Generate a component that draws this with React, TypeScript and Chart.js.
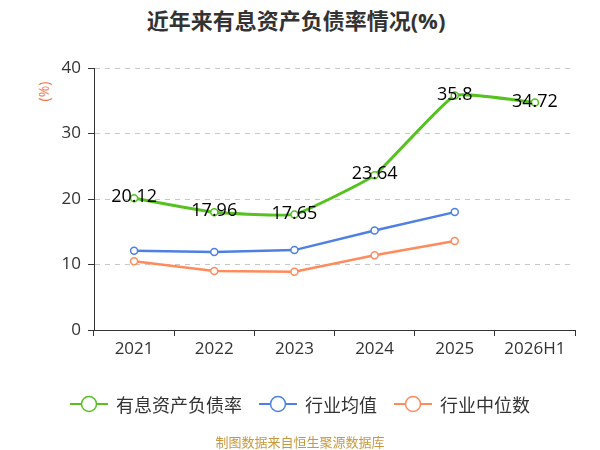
import { useEffect, useRef } from 'react';
import { Chart, registerables } from 'chart.js';

Chart.register(...registerables);

const years = ['2021', '2022', '2023', '2024', '2025', '2026H1'];
const debtRatio = [20.12, 17.96, 17.65, 23.64, 35.8, 34.72];
const industryAvg = [12.1, 11.9, 12.2, 15.2, 18.0, null];
const industryMedian = [10.5, 9.0, 8.9, 11.4, 13.6, null];
const yTicks = [0, 10, 20, 30, 40];

const GREEN = '#55c21f';
const BLUE = '#4e80e3';
const ORANGE = '#ff8b5c';
const FONT = '"Open Sans", "Noto Sans CJK SC", sans-serif';

const seriesNames = ['有息资产负债率', '行业均值', '行业中位数'];
const seriesColors = [GREEN, BLUE, ORANGE];

// 绿色折线上的数值标签
const valueLabels = {
  id: 'valueLabels',
  afterDatasetsDraw(chart: Chart) {
    const ctx = chart.ctx;
    const meta = chart.getDatasetMeta(0);
    ctx.save();
    ctx.font = `18px ${FONT}`;
    ctx.fillStyle = '#000';
    ctx.textAlign = 'center';
    ctx.textBaseline = 'middle';
    meta.data.forEach((pt, i) => {
      ctx.fillText(String(debtRatio[i]), pt.x, pt.y - 1);
    });
    ctx.restore();
  },
};

function Legend() {
  return (
    <div
      style={{
        position: 'absolute',
        top: 391,
        left: 0,
        width: 600,
        display: 'flex',
        justifyContent: 'center',
        alignItems: 'center',
        boxSizing: 'border-box',
      }}
    >
      {seriesNames.map((name, i) => (
        <div key={name} style={{ display: 'flex', alignItems: 'center', marginRight: i < 2 ? 17 : 0 }}>
          <svg width={38} height={22}>
            <line x1={0} y1={11} x2={38} y2={11} stroke={seriesColors[i]} strokeWidth={2} />
            <circle cx={19} cy={11} r={7.5} fill="#fff" stroke={seriesColors[i]} strokeWidth={1.5} />
          </svg>
          <span style={{ marginLeft: 8, fontSize: 18, color: '#333', fontFamily: FONT }}>{name}</span>
        </div>
      ))}
    </div>
  );
}

export default function App() {
  const canvasRef = useRef<HTMLCanvasElement>(null);
  const chartRef = useRef<Chart | null>(null);

  useEffect(() => {
    if (!canvasRef.current) return;
    if (chartRef.current) chartRef.current.destroy();

    const common = {
      pointStyle: 'circle' as const,
      pointRadius: 3.5,
      pointBackgroundColor: '#fff',
      pointBorderWidth: 1.5,
      spanGaps: false,
    };

    chartRef.current = new Chart(canvasRef.current, {
      type: 'line',
      data: {
        labels: years,
        datasets: [
          {
            ...common,
            label: seriesNames[0],
            data: debtRatio,
            borderColor: GREEN,
            pointBorderColor: GREEN,
            borderWidth: 3,
            tension: 0.12,
          },
          {
            ...common,
            label: seriesNames[1],
            data: industryAvg,
            borderColor: BLUE,
            pointBorderColor: BLUE,
            borderWidth: 2.5,
            tension: 0,
          },
          {
            ...common,
            label: seriesNames[2],
            data: industryMedian,
            borderColor: ORANGE,
            pointBorderColor: ORANGE,
            borderWidth: 2.5,
            tension: 0,
          },
        ],
      },
      options: {
        animation: false,
        responsive: false,
        layout: { padding: { left: 0, top: 68, right: 25, bottom: 0 } },
        plugins: {
          legend: { display: false },
          tooltip: { enabled: false },
        },
        scales: {
          x: {
            offset: true,
            grid: {
              offset: true,
              drawOnChartArea: false,
              drawTicks: true,
              tickLength: 6,
              tickColor: '#333',
            },
            border: { color: '#333', width: 1 },
            ticks: { color: '#333', font: { size: 17, family: FONT }, padding: 3 },
            afterFit(scale) {
              scale.height = 120;
            },
          },
          y: {
            min: 0,
            max: 40,
            afterBuildTicks(scale) {
              scale.ticks = yTicks.map((v) => ({ value: v }));
            },
            grid: {
              color: '#c8c8c8',
              lineWidth: 1,
              tickColor: '#333',
              tickLength: 6,
              tickBorderDash: [],
            },
            border: { color: '#333', width: 1, dash: [5, 5] },
            ticks: { color: '#333', font: { size: 17, family: FONT }, padding: 7 },
            afterFit(scale) {
              scale.width = 94;
            },
          },
        },
      },
      plugins: [valueLabels],
    });

    return () => {
      if (chartRef.current) {
        chartRef.current.destroy();
        chartRef.current = null;
      }
    };
  }, []);

  return (
    <div style={{ position: 'absolute', left: 0, top: 0, width: 600, height: 450, background: '#fff' }}>
      <div
        style={{
          position: 'absolute',
          top: 3,
          left: 0,
          width: 592,
          textAlign: 'center',
          fontSize: 22,
          fontWeight: 'bold',
          color: '#333',
          fontFamily: FONT,
        }}
      >
        近年来有息资产负债率情况(%)
      </div>
      <div
        style={{
          position: 'absolute',
          left: 34,
          top: 82,
          fontSize: 14,
          color: '#f0764a',
          fontFamily: FONT,
          transform: 'rotate(-90deg)',
          transformOrigin: 'center',
        }}
      >
        (%)
      </div>
      <canvas ref={canvasRef} width={600} height={450} style={{ position: 'absolute', left: 0, top: 0 }} />
      <Legend />
      <div
        style={{
          position: 'absolute',
          top: 432,
          left: 0,
          width: 600,
          textAlign: 'center',
          fontSize: 13,
          color: '#c9983e',
          fontFamily: FONT,
        }}
      >
        制图数据来自恒生聚源数据库
      </div>
    </div>
  );
}
